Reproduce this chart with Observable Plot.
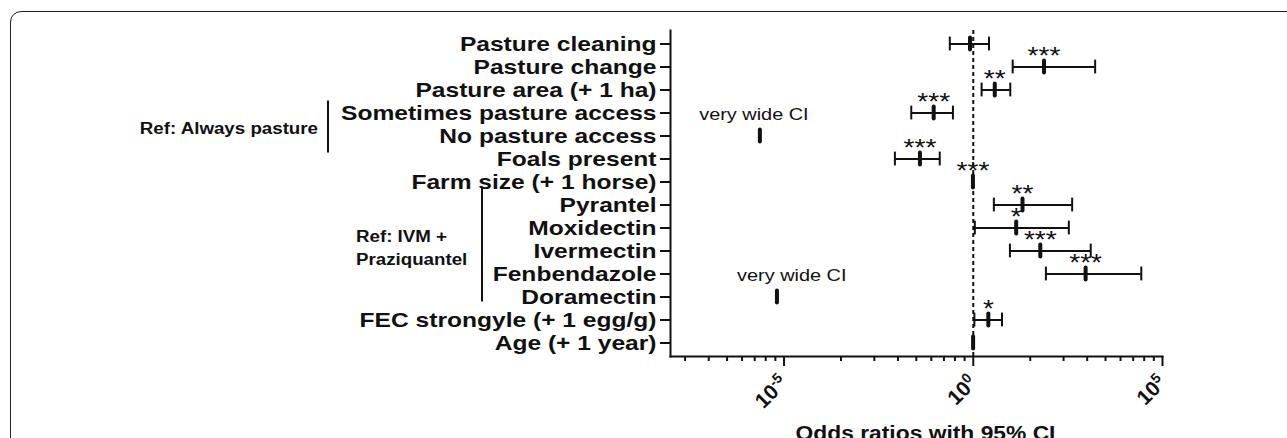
<!DOCTYPE html>
<html><head><meta charset="utf-8">
<script src="https://cdn.jsdelivr.net/npm/d3@7"></script>
<script src="https://cdn.jsdelivr.net/npm/@observablehq/plot@0.6"></script>
<style>
html,body{margin:0;padding:0;background:#fff;overflow:hidden;}
#wrap{position:relative;width:1287px;height:438px;overflow:hidden;}
#border{position:absolute;left:10px;top:11px;width:1400px;height:600px;border:1.6px solid #222;border-radius:11px;box-sizing:border-box;}
#chart{position:absolute;left:0;top:0;}
</style></head><body><div id="wrap"><div id="border"></div><div id="chart"></div></div>
<script>
// ---- data ----
const rows = ["Pasture cleaning","Pasture change","Pasture area (+ 1 ha)","Sometimes pasture access","No pasture access","Foals present","Farm size (+ 1 horse)","Pyrantel","Moxidectin","Ivermectin","Fenbendazole","Doramectin","FEC strongyle (+ 1 egg/g)","Age (+ 1 year)"];
const estimate = [0.82, 74, 3.7, 0.09, 2.3e-6, 0.039, 0.98, 20, 13.6, 59, 930, 6.5e-6, 2.5, 0.99];
const lower    = [0.24, 11, 1.66, 0.023, null, 0.0085, 0.97, 3.5, 1.1, 9.3, 83, null, 1.07, 0.98];
const upper    = [2.6, 1660, 9.5, 0.29, null, 0.13, 0.99, 410, 335, 1270, 27500, null, 5.75, 1.0];
const stars    = ["", "***", "**", "***", "", "***", "***", "**", "*", "***", "***", "", "*", ""];
const noteRows = ["No pasture access", "Doramectin"];
const noteText = ["very wide CI", "very wide CI"];
const noteX    = [1.6e-6, 1.6e-5];
const groupLabels = [["Ref: Always pasture"], ["Ref: IVM +", "Praziquantel"]];
const groupRows = [["Sometimes pasture access","No pasture access"], ["Pyrantel","Moxidectin","Ivermectin","Fenbendazole","Doramectin"]];
const majorExp = [-5, 0, 5];
const minorMult = [2,3,4,5,6,7,8,9];
const xTitle = "Odds ratios with 95% CI";

const data = rows.map((r,i)=>({row:r, est:estimate[i], lo:lower[i], hi:upper[i], sig:stars[i]}));
const ci = data.filter(d=>d.lo!=null);
const notes = noteRows.map((r,i)=>({row:r, x:noteX[i], text:noteText[i]}));
const major = majorExp.map(e=>Math.pow(10,e));
const minor = [];
for (const e of [-10,-5,0]) for (const k of minorMult) { const v = Math.pow(10, e + 5*Math.log10(k)); if (v >= 1e-8) minor.push(v); }

const FONT = "'Liberation Sans', Arial, Helvetica, sans-serif";
const STRETCH = 1.17;

const plot = Plot.plot({
  width: 1287, height: 438,
  marginLeft: 670, marginRight: 125, marginTop: 30, marginBottom: 82,
  style: {fontFamily: FONT, background: "transparent", overflow: "visible", color: "#111"},
  x: {type: "log", domain: [1e-8, 1e5], label: null},
  y: {type: "band", domain: rows, padding: 0, label: null},
  marks: [
    Plot.axisY({tickSize: 10, tickPadding: 4, fontSize: 21, fontWeight: "bold", label: null, strokeWidth: 2}),
    Plot.axisX(minor, {tickSize: 5, tickFormat: () => "", label: null, strokeWidth: 2}),
    Plot.axisX(major, {tickSize: 10, tickRotate: -45, tickPadding: 13, tickFormat: v => "10^" + Math.round(Math.log10(v)), fontSize: 21, fontWeight: "bold", label: null, strokeWidth: 2}),
    Plot.frame({anchor: "left", strokeWidth: 2}),
    Plot.frame({anchor: "bottom", strokeWidth: 2}),
    Plot.ruleX([1], {strokeDasharray: "4,3", strokeWidth: 2}),
    Plot.ruleY(ci, {y: "row", x1: "lo", x2: "hi", strokeWidth: 2}),
    Plot.tickX(ci, {x: "lo", y: "row", strokeWidth: 2, insetTop: 4.6, insetBottom: 4.6}),
    Plot.tickX(ci, {x: "hi", y: "row", strokeWidth: 2, insetTop: 4.6, insetBottom: 4.6}),
    Plot.tickX(data, {x: "est", y: "row", strokeWidth: 4, strokeLinecap: "round", insetTop: 5.5, insetBottom: 5.5}),
    Plot.text(data.filter(d=>d.sig), {x: "est", y: "row", text: "sig", fontSize: 24, lineAnchor: "bottom", dy: -3}),
    Plot.text(notes, {x: "x", y: "row", text: "text", fontSize: 17, lineAnchor: "bottom", dy: -16}),
    Plot.text([xTitle], {text: d => d, frameAnchor: "bottom", dx: 9, dy: 83, fontSize: 19.5, fontWeight: "bold", lineAnchor: "bottom"})
  ]
});
document.getElementById("chart").appendChild(plot);

const svg = d3.select(plot);
// bracket annotations
const ys = plot.scale("y");
const yc = r => ys.apply(r) + ys.bandwidth/2;
const ann = svg.append("g").attr("font-family", FONT).attr("font-weight", "bold").attr("fill", "#111").attr("text-anchor", "start");
{
  const mid = (yc(groupRows[0][0]) + yc(groupRows[0][1]))/2;
  ann.append("text").attr("x", 318).attr("y", mid + 10).attr("text-anchor", "end").attr("font-size", 16).text(groupLabels[0][0]);
  ann.append("line").attr("x1", 328).attr("x2", 328).attr("y1", yc(groupRows[0][0]) - 12).attr("y2", yc(groupRows[0][1]) + 17).attr("stroke", "#111").attr("stroke-width", 2);
  const g = groupRows[1];
  const mid2 = (yc(g[0]) + yc(g[g.length-1]))/2;
  ann.append("text").attr("x", 356).attr("y", mid2 - 9).attr("text-anchor", "start").attr("font-size", 16).text(groupLabels[1][0]);
  ann.append("text").attr("x", 356).attr("y", mid2 + 14).attr("text-anchor", "start").attr("font-size", 16).text(groupLabels[1][1]);
  ann.append("line").attr("x1", 482).attr("x2", 482).attr("y1", yc(g[0]) - 17).attr("y2", yc(g[g.length-1]) + 5).attr("stroke", "#111").attr("stroke-width", 2);
}
// superscript tick labels
svg.selectAll("text").each(function() {
  const t = this.textContent;
  const m = /^10\^(-?\d+)$/.exec(t);
  if (m) {
    this.textContent = "";
    this.setAttribute("font-size", "21px");
    this.setAttribute("font-weight", "bold");
    const s = d3.select(this);
    s.append("tspan").text("10");
    s.append("tspan").attr("dy", "-0.55em").attr("font-size", "14px").text(m[1]);
  }
});
// horizontal stretch for non-rotated text
svg.selectAll("text").each(function() {
  if (this.querySelector("tspan[dy]")) return;
  const tr = this.getAttribute("transform") || "";
  if (/rotate/.test(tr)) return;
  const L = this.getComputedTextLength();
  if (L > 0) { this.setAttribute("textLength", (L*STRETCH).toFixed(1)); this.setAttribute("lengthAdjust", "spacingAndGlyphs"); }
});
</script></body></html>
